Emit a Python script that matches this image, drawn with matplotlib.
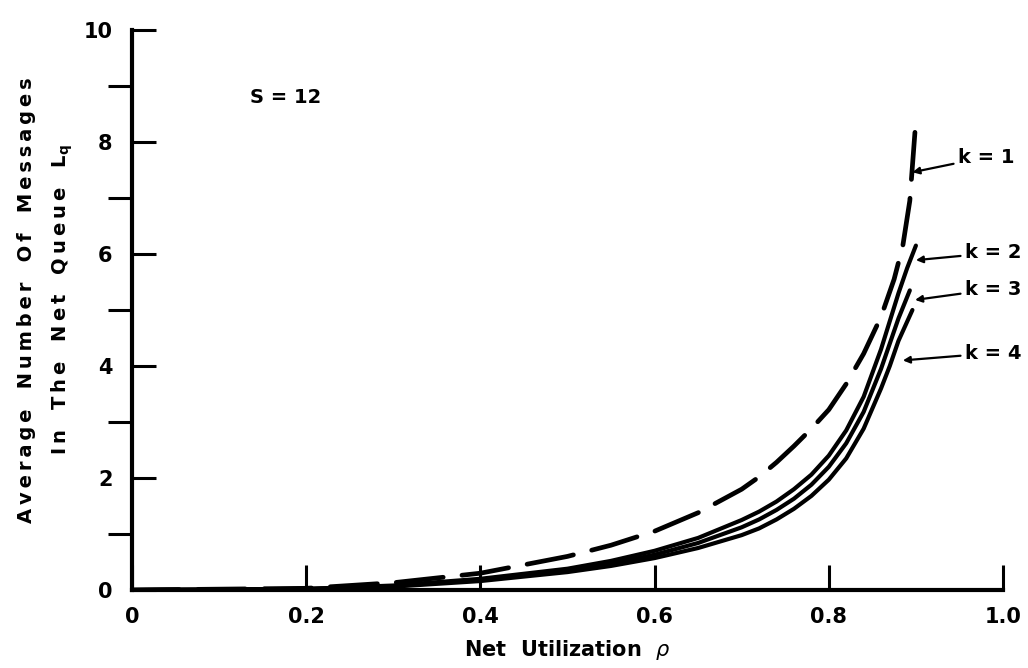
import matplotlib
matplotlib.use("Agg")
import matplotlib.pyplot as plt

# Data (S = 12)
rho_k1 = [0, 0.2, 0.3, 0.4, 0.45, 0.5, 0.55, 0.6, 0.65, 0.7, 0.72, 0.74, 0.76, 0.78, 0.8,
          0.82, 0.84, 0.86, 0.875, 0.885, 0.893, 0.9]
lq_k1 = [0, 0.03, 0.13, 0.3, 0.45, 0.6, 0.8, 1.05, 1.38, 1.8, 2.02, 2.28, 2.57, 2.88, 3.22,
         3.68, 4.22, 4.88, 5.55, 6.15, 6.95, 8.4]

rho_k2 = [0, 0.2, 0.3, 0.4, 0.5, 0.55, 0.6, 0.65, 0.7, 0.72, 0.74, 0.76, 0.78, 0.8,
          0.82, 0.84, 0.86, 0.87, 0.88, 0.89, 0.9]
lq_k2 = [0, 0.02, 0.08, 0.2, 0.38, 0.52, 0.7, 0.93, 1.25, 1.4, 1.58, 1.8, 2.06, 2.4,
         2.85, 3.45, 4.3, 4.8, 5.3, 5.75, 6.15]

rho_k3 = [0, 0.2, 0.3, 0.4, 0.5, 0.55, 0.6, 0.65, 0.7, 0.72, 0.74, 0.76, 0.78, 0.8,
          0.82, 0.84, 0.86, 0.87, 0.88, 0.893]
lq_k3 = [0, 0.02, 0.07, 0.18, 0.35, 0.47, 0.63, 0.84, 1.12, 1.26, 1.43, 1.63, 1.88, 2.2,
         2.62, 3.18, 3.95, 4.4, 4.85, 5.35]

rho_k4 = [0, 0.2, 0.3, 0.4, 0.5, 0.55, 0.6, 0.65, 0.7, 0.72, 0.74, 0.76, 0.78, 0.8,
          0.82, 0.84, 0.86, 0.87, 0.88, 0.896]
lq_k4 = [0, 0.01, 0.06, 0.16, 0.32, 0.43, 0.57, 0.75, 0.98, 1.1, 1.26, 1.45, 1.68, 1.97,
         2.35, 2.88, 3.6, 4.0, 4.45, 5.0]

curve_labels = ["k = 1", "k = 2", "k = 3", "k = 4"]
label_pos = [(0.948, 7.73), (0.956, 6.02), (0.956, 5.37), (0.956, 4.23)]
arrow_tip = [(0.896, 7.46), (0.900, 5.89), (0.899, 5.18), (0.885, 4.10)]

x_ticks = [0, 0.2, 0.4, 0.6, 0.8, 1.0]
x_ticklabels = ["0", "0.2", "0.4", "0.6", "0.8", "1.0"]
y_ticks = [0, 2, 4, 6, 8, 10]
y_ticklabels = ["0", "2", "4", "6", "8", "10"]


def spaced(s):
    # wide lettering like the original hand-lettered labels
    return "\u2009".join(s)


fig = plt.figure(figsize=(10.28, 6.68), dpi=100)
ax = fig.add_axes([132 / 1028, 1 - 590 / 668, (1003 - 132) / 1028, (590 - 30) / 668])

ax.plot(rho_k1, lq_k1, color="black", lw=3.4, linestyle=(0, (10, 4)), dash_capstyle="round")
ax.plot(rho_k2, lq_k2, color="black", lw=3.0, solid_capstyle="round")
ax.plot(rho_k3, lq_k3, color="black", lw=3.0, solid_capstyle="round")
ax.plot(rho_k4, lq_k4, color="black", lw=3.0, solid_capstyle="round")

for lab, pos, tip in zip(curve_labels, label_pos, arrow_tip):
    ax.annotate(lab, xy=tip, xytext=pos, fontsize=14, fontweight="bold",
                va="center", ha="left",
                arrowprops=dict(arrowstyle="-|>", color="black", lw=1.6,
                                mutation_scale=10, shrinkA=1, shrinkB=0))

ax.text(0.176, 8.8, "S = 12", fontsize=14, fontweight="bold", ha="center", va="center")

ax.set_xlim(0, 1.0)
ax.set_ylim(0, 10)
ax.set_xticks(x_ticks)
ax.set_xticklabels(x_ticklabels)
ax.set_yticks(y_ticks)
ax.set_yticklabels(y_ticklabels)
ax.set_yticks(range(1, 10, 2), minor=True)

ax.tick_params(axis="both", direction="in", width=2.2, labelsize=15, colors="black")
ax.tick_params(axis="x", length=18, pad=12)
ax.tick_params(axis="y", which="both", length=17, width=2.2, pad=14)
for lbl in ax.get_xticklabels() + ax.get_yticklabels():
    lbl.set_fontweight("bold")

for side in ["top", "right"]:
    ax.spines[side].set_visible(False)
for side in ["left", "bottom"]:
    ax.spines[side].set_linewidth(3)

ax.set_xlabel("Net  Utilization  $\\rho$", fontsize=15, fontweight="bold", labelpad=8)

fig.text(27 / 1028, 1 - 300 / 668, spaced("Average") + "   " + spaced("Number") + "   "
         + spaced("Of") + "   " + spaced("Messages"),
         rotation=90, fontsize=14, fontweight="bold", ha="center", va="center")
fig.text(62 / 1028, 1 - 300 / 668, spaced("In") + "   " + spaced("The") + "   "
         + spaced("Net") + "   " + spaced("Queue") + "   L$_{\\mathbf{q}}$",
         rotation=90, fontsize=14, fontweight="bold", ha="center", va="center")

fig.savefig("out.png", dpi=100)
